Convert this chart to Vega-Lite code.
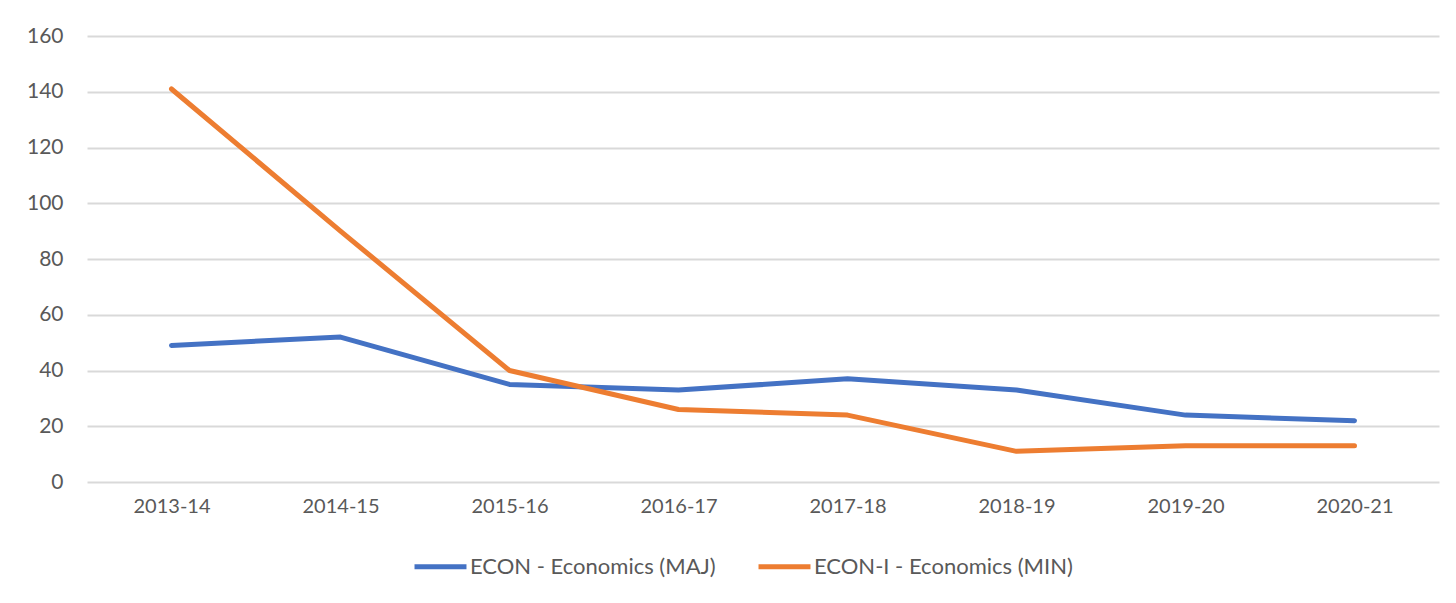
{
  "$schema": "https://vega.github.io/schema/vega-lite/v6.json",
  "autosize": {"type": "none"},
  "padding": {"left": 87, "top": 36, "right": 17, "bottom": 121},
  "width": 1352,
  "height": 446,
  "background": "white",
  "data": {
    "values": [
      {"year": "2013-14", "series": "ECON - Economics (MAJ)", "value": 49},
      {"year": "2014-15", "series": "ECON - Economics (MAJ)", "value": 52},
      {"year": "2015-16", "series": "ECON - Economics (MAJ)", "value": 35},
      {"year": "2016-17", "series": "ECON - Economics (MAJ)", "value": 33},
      {"year": "2017-18", "series": "ECON - Economics (MAJ)", "value": 37},
      {"year": "2018-19", "series": "ECON - Economics (MAJ)", "value": 33},
      {"year": "2019-20", "series": "ECON - Economics (MAJ)", "value": 24},
      {"year": "2020-21", "series": "ECON - Economics (MAJ)", "value": 22},
      {"year": "2013-14", "series": "ECON-I - Economics (MIN)", "value": 141},
      {"year": "2014-15", "series": "ECON-I - Economics (MIN)", "value": 90},
      {"year": "2015-16", "series": "ECON-I - Economics (MIN)", "value": 40},
      {"year": "2016-17", "series": "ECON-I - Economics (MIN)", "value": 26},
      {"year": "2017-18", "series": "ECON-I - Economics (MIN)", "value": 24},
      {"year": "2018-19", "series": "ECON-I - Economics (MIN)", "value": 11},
      {"year": "2019-20", "series": "ECON-I - Economics (MIN)", "value": 13},
      {"year": "2020-21", "series": "ECON-I - Economics (MIN)", "value": 13}
    ]
  },
  "mark": {"type": "line", "strokeWidth": 5, "strokeCap": "round", "strokeJoin": "round"},
  "encoding": {
    "x": {
      "field": "year", "type": "ordinal",
      "scale": {"type": "point", "padding": 0.5},
      "axis": {"title": null, "labelAngle": 0, "ticks": false, "domain": false, "grid": false, "labelPadding": 14, "labelFontSize": 20, "labelFont": "Lato", "labelColor": "#595959"}
    },
    "y": {
      "field": "value", "type": "quantitative",
      "scale": {"domain": [0, 160], "nice": false},
      "axis": {"title": null, "values": [0, 20, 40, 60, 80, 100, 120, 140, 160], "ticks": false, "domain": false, "gridColor": "#d9d9d9", "gridWidth": 2, "labelPadding": 24, "labelFontSize": 21, "labelFont": "Lato", "labelColor": "#595959"}
    },
    "color": {
      "field": "series", "type": "nominal",
      "scale": {"domain": ["ECON - Economics (MAJ)", "ECON-I - Economics (MIN)"], "range": ["#4472C4", "#ED7D31"]},
      "legend": {
        "title": null, "orient": "none", "direction": "horizontal",
        "legendX": 325, "legendY": 502,
        "symbolType": "stroke", "symbolSize": 2700, "symbolStrokeWidth": 5,
        "labelFontSize": 22, "labelFont": "Lato", "labelColor": "#595959",
        "labelLimit": 0, "labelOffset": 1, "columnPadding": 32
      }
    }
  },
  "config": {"view": {"stroke": null}}
}
